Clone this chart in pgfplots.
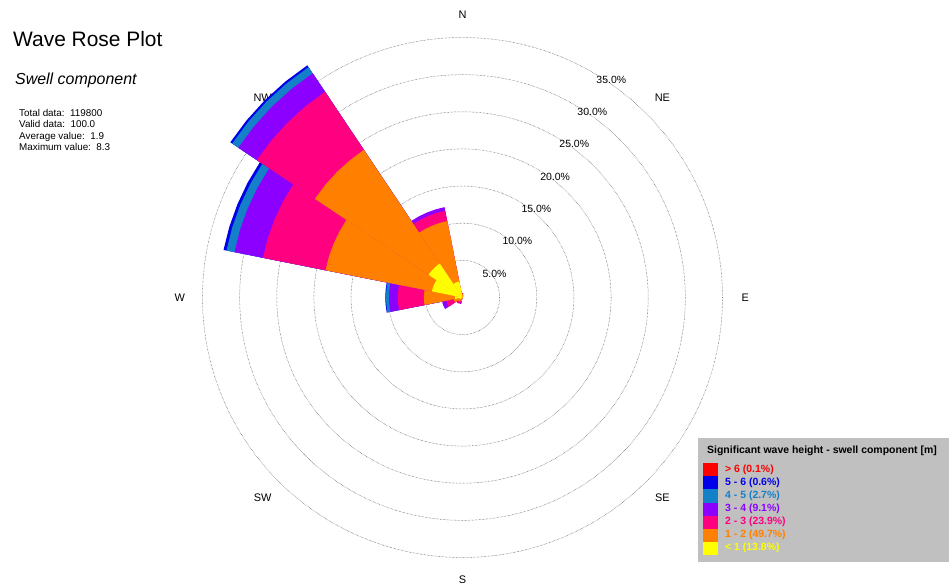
\documentclass[border=0pt]{standalone}
\usepackage{pgfplots}
\pgfplotsset{compat=1.18}
\usepgfplotslibrary{polar}
\usepackage{fontspec}
\setmainfont{Liberation Sans}
\definecolor{cRed}{RGB}{255,0,0}
\definecolor{cBlue}{RGB}{0,0,235}
\definecolor{cTeal}{RGB}{20,128,200}
\definecolor{cPurple}{RGB}{140,0,255}
\definecolor{cPink}{RGB}{255,0,128}
\definecolor{cOrange}{RGB}{255,128,0}
\definecolor{cYellow}{RGB}{255,255,0}
\definecolor{legbg}{RGB}{192,192,192}
\definecolor{ringc}{RGB}{55,55,55}
% one stacked layer of one direction bin: #1 centre angle (math convention), #2 cumulative %, #3 colour
\newcommand\sect[3]{%
  \pgfmathsetmacro\sa{#1-11.25}%
  \pgfmathsetmacro\sb{#1-5.625}%
  \pgfmathsetmacro\sc{#1+5.625}%
  \pgfmathsetmacro\sd{#1+11.25}%
  \edef\temp{\noexpand\addplot[fill=#3,draw=none,forget plot] coordinates {(0,0) (\sa,#2) (\sb,#2) (#1,#2) (\sc,#2) (\sd,#2) (0,0)};}%
  \temp}
\begin{document}
\begin{tikzpicture}
\path[use as bounding box] (0,0) rectangle (949bp,585bp);
% titles
\node[anchor=base west, inner sep=0pt, font=\fontsize{21}{25}\selectfont] at (13bp,538bp) {Wave Rose Plot};
\node[anchor=base west, inner sep=0pt, font=\fontsize{16}{19}\selectfont\itshape] at (15bp,500bp) {Swell component};
\node[anchor=base west, inner sep=0pt, font=\fontsize{9.9}{11}\selectfont] at (19bp,468.3bp) {Total data:\ \ 119800};
\node[anchor=base west, inner sep=0pt, font=\fontsize{9.9}{11}\selectfont] at (19bp,457bp) {Valid data:\ \ 100.0};
\node[anchor=base west, inner sep=0pt, font=\fontsize{9.9}{11}\selectfont] at (19bp,445.7bp) {Average value:\ \ 1.9};
\node[anchor=base west, inner sep=0pt, font=\fontsize{9.9}{11}\selectfont] at (19bp,434.4bp) {Maximum value:\ \ 8.3};
\begin{polaraxis}[
  at={(462.5bp,287.5bp)}, anchor=center,
  width=520bp, height=520bp, scale only axis,
  xmin=0, xmax=360, ymin=0, ymax=35,
  clip=false,
  xtick=\empty,
  ytick={5,10,15,20,25,30,35},
  yticklabels={},
  major tick length=0pt,
  ymajorgrids=true, xmajorgrids=false,
  grid style={ringc, densely dotted, line width=0.5pt},
  axis line style={draw=none},
]
% compass labels
\foreach \ang/\lab in {90/N,45/NE,0/E,315/SE,270/S,225/SW,180/W,135/NW}{
  \edef\tmpnode{\noexpand\node[font=\noexpand\fontsize{11}{13}\noexpand\selectfont, anchor=center] at (axis cs:\ang,38.05) {\lab};}
  \tmpnode
}
% 5 - 6 m (outermost visible layer)
\sect{135}{37.6}{cBlue}
\sect{157.5}{32.8}{cBlue}
\sect{180}{10.4}{cBlue}
% 4 - 5 m
\sect{135}{37.3}{cTeal}
\sect{157.5}{32.4}{cTeal}
\sect{180}{10.3}{cTeal}
% 3 - 4 m
\sect{135}{36.3}{cPurple}
\sect{157.5}{31.3}{cPurple}
\sect{180}{9.9}{cPurple}
\sect{112.5}{12.4}{cPurple}
\sect{202.5}{2.8}{cPurple}
\sect{247.5}{0.9}{cPurple}
% 2 - 3 m
\sect{135}{33.3}{cPink}
\sect{157.5}{27.4}{cPink}
\sect{180}{8.7}{cPink}
\sect{112.5}{11.9}{cPink}
\sect{202.5}{2.2}{cPink}
\sect{225}{1.0}{cPink}
\sect{247.5}{0.7}{cPink}
\sect{90}{0.6}{cPink}
% 1 - 2 m
\sect{135}{23.9}{cOrange}
\sect{157.5}{18.8}{cOrange}
\sect{180}{5.2}{cOrange}
\sect{112.5}{10.5}{cOrange}
\sect{202.5}{1.2}{cOrange}
\sect{225}{0.7}{cOrange}
\sect{247.5}{0.5}{cOrange}
\sect{90}{0.5}{cOrange}
\sect{67.5}{0.3}{cOrange}
% < 1 m
\sect{135}{5.5}{cYellow}
\sect{157.5}{4.2}{cYellow}
\sect{180}{1.0}{cYellow}
\sect{112.5}{2.2}{cYellow}
\sect{202.5}{0.4}{cYellow}
% ring labels
\node[font=\fontsize{10.5}{12}\selectfont] at (axis cs:36.9,5.38) {5.0\%};
\node[font=\fontsize{10.5}{12}\selectfont] at (axis cs:46.0,10.65) {10.0\%};
\node[font=\fontsize{10.5}{12}\selectfont] at (axis cs:50.3,15.56) {15.0\%};
\node[font=\fontsize{10.5}{12}\selectfont] at (axis cs:52.5,20.5) {20.0\%};
\node[font=\fontsize{10.5}{12}\selectfont] at (axis cs:54.0,25.6) {25.0\%};
\node[font=\fontsize{10.5}{12}\selectfont] at (axis cs:55.05,30.5) {30.0\%};
\node[font=\fontsize{10.5}{12}\selectfont] at (axis cs:55.65,35.5) {35.0\%};
\end{polaraxis}
% legend
\fill[legbg] (698bp,23bp) rectangle (949bp,147bp);
\node[anchor=base west, inner sep=0pt, font=\fontsize{10.5}{12}\selectfont\bfseries] at (707bp,131bp) {Significant wave height - swell component [m]};
\foreach \i/\col/\txt in {0/cRed/{> 6 (0.1\%)},1/cBlue/{5 - 6 (0.6\%)},2/cTeal/{4 - 5 (2.7\%)},3/cPurple/{3 - 4 (9.1\%)},4/cPink/{2 - 3 (23.9\%)},5/cOrange/{1 - 2 (49.7\%)},6/cYellow/{< 1 (13.8\%)}}{
  \fill[\col] (703.3bp,{(121.7-13.1*\i)*1bp}) rectangle (717.7bp,{(108.6-13.1*\i)*1bp});
  \node[anchor=base west, inner sep=0pt, text=\col, font=\fontsize{10.5}{12}\selectfont\bfseries] at (725bp,{(112.7-13.1*\i)*1bp}) {\txt};
}
\end{tikzpicture}
\end{document}
